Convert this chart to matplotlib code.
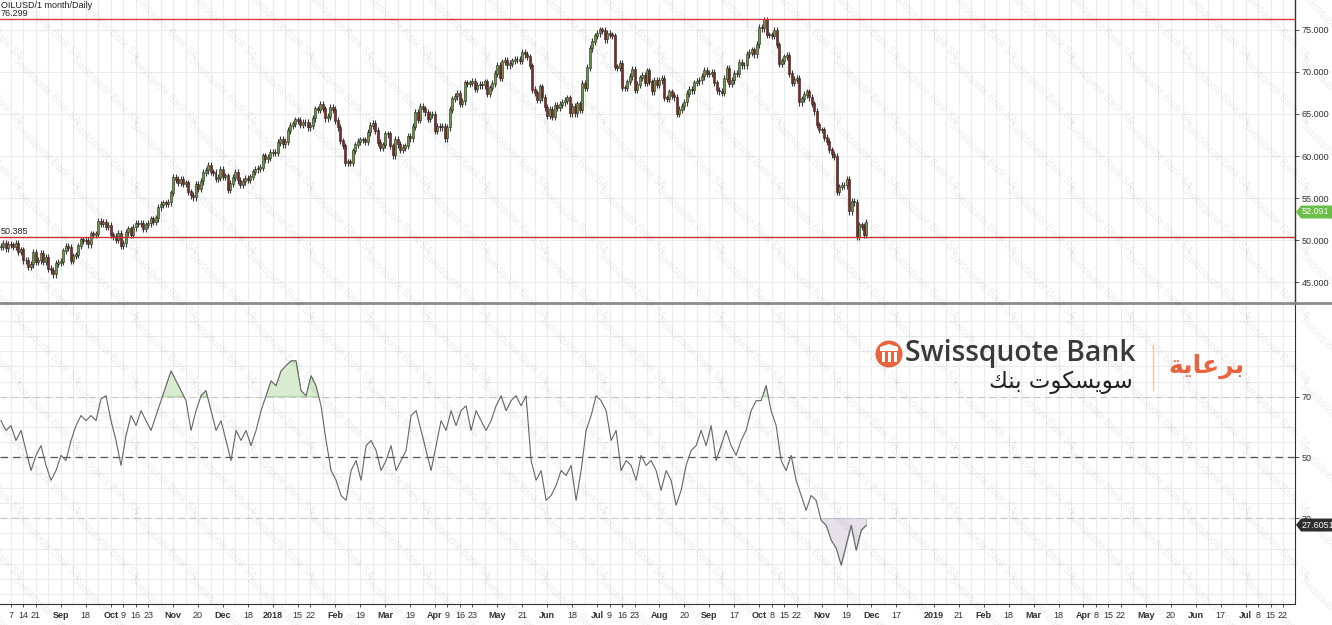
import numpy as np
import pandas as pd
import matplotlib
matplotlib.use("Agg")
import matplotlib.pyplot as plt
import matplotlib.transforms as mtransforms
from matplotlib.patches import Ellipse, Polygon, Rectangle
from matplotlib.lines import Line2D

# daily closes, 2017-08-01 .. 2018-11-29 (one row per week, Mon..Fri)
closes = [
    49.2, 49.6, 49.0, 49.5,
    49.4, 49.2, 49.6, 48.6, 48.8,
    47.6, 47.6, 46.8, 47.1, 48.5,
    47.4, 47.6, 48.4, 47.4, 47.9,
    46.6, 46.4, 45.9, 47.2, 47.3,
    47.4, 48.7, 49.2, 49.1, 47.5,
    48.1, 48.2, 49.3, 50.0, 49.9,
    49.9, 49.5, 50.7, 50.6, 50.7,
    52.2, 51.9, 52.1, 51.6, 51.7,
    50.6, 50.4, 50.0, 50.8, 49.3,
    49.6, 50.9, 51.3, 50.6, 51.5,
    52.0, 51.9, 52.0, 51.3, 51.8,
    52.0, 52.5, 52.2, 52.6, 53.9,
    54.2, 54.4, 54.3, 54.5, 55.6,
    57.4, 57.2, 56.8, 57.2, 56.7,
    56.8, 55.7, 55.3, 55.1, 56.6,
    56.1, 57.0, 58.0, 58.3, 58.9,
    58.1, 58.0, 57.3, 57.4, 58.4,
    57.5, 57.6, 56.0, 56.7, 57.4,
    58.0, 57.1, 56.6, 57.0, 57.3,
    57.2, 57.5, 58.1, 58.4, 58.5,
    58.6, 60.0, 59.6, 59.8, 60.4,
    60.4, 60.4, 61.6, 62.0, 61.4,
    61.7, 63.0, 63.6, 63.8, 64.3,
    64.2, 63.7, 64.0, 64.0, 63.4,
    63.6, 64.5, 65.6, 65.5, 66.1,
    65.6, 64.5, 64.7, 65.8, 65.5,
    64.2, 63.4, 61.8, 61.2, 59.2,
    59.3, 59.2, 60.6, 61.3, 61.7,
    61.9, 61.9, 61.7, 62.8, 63.6,
    63.9, 63.0, 61.6, 61.0, 61.3,
    62.6, 62.6, 61.2, 60.1, 62.0,
    61.4, 60.7, 61.0, 61.2, 62.3,
    62.1, 63.5, 65.2, 64.3, 65.9,
    65.6, 65.2, 64.4, 64.9, 64.9,
    63.0, 63.5, 63.4, 63.5, 62.1,
    63.4, 65.5, 66.8, 67.1, 67.4,
    66.2, 66.5, 68.7, 68.6, 68.7,
    68.9, 68.0, 68.4, 68.5, 68.4,
    68.8, 67.4, 68.1, 68.6, 69.8,
    70.8, 69.3, 71.2, 71.4, 70.8,
    71.0, 71.3, 71.5, 71.5, 71.3,
    72.3, 72.1, 71.8, 70.7, 67.9,
    67.5, 66.7, 68.2, 67.0, 65.8,
    64.8, 65.5, 64.7, 66.0, 65.7,
    66.1, 66.4, 66.6, 66.9, 65.1,
    65.9, 65.1, 66.2, 65.5, 68.6,
    68.1, 70.5, 72.8, 73.6, 74.3,
    74.6, 75.0, 74.9, 73.9, 74.6,
    74.4, 74.3, 70.6, 70.5, 71.0,
    68.1, 68.1, 68.8, 69.5, 70.3,
    67.9, 68.5, 69.3, 69.6, 68.7,
    70.1, 68.8, 67.7, 69.0, 68.5,
    69.0, 69.2, 66.9, 66.8, 67.6,
    67.2, 67.0, 65.0, 65.5, 65.9,
    66.4, 67.4, 67.9, 67.8, 68.7,
    68.9, 69.0, 69.5, 70.2, 69.8,
    69.8, 69.9, 68.7, 67.8, 67.7,
    67.5, 69.2, 70.4, 68.6, 69.0,
    69.8, 69.8, 71.1, 70.8, 70.8,
    72.1, 72.3, 72.6, 72.1, 73.3,
    75.3, 75.2, 76.2, 74.4, 74.4,
    74.3, 74.9, 73.2, 71.0, 71.3,
    71.8, 72.0, 69.8, 68.7, 69.1,
    69.2, 66.4, 66.8, 67.3, 67.6,
    67.0, 66.2, 65.3, 63.7, 63.1,
    63.1, 62.2, 61.7, 60.7, 60.2,
    59.9, 55.7, 56.3, 56.5, 56.5,
    57.2, 53.4, 54.6, 54.5, 50.4,
    51.8, 51.6, 50.6, 52.09,
]

# RSI(14) (coarse, every other trading day)
rsi = [
    62.1, 58.9, 60.5, 55.6, 58.9, 52.3, 45.7, 50.7, 53.9, 47.4, 42.5, 45.7, 50.7, 49.0,
    55.6, 60.5, 63.8, 62.1, 63.8, 62.1, 69.3, 70.3, 62.1, 55.6, 47.4, 57.2, 63.8, 60.5,
    65.4, 62.1, 58.9, 63.8, 68.7, 73.6, 78.5, 75.2, 72.0, 68.7, 58.9, 65.4, 70.3, 72.0,
    65.4, 58.9, 62.1, 55.6, 49.0, 58.9, 55.6, 58.9, 53.9, 58.9, 65.4, 70.3, 75.2, 73.6,
    78.5, 80.2, 81.8, 81.8, 72.0, 70.3, 76.9, 73.6, 67.0, 55.6, 45.7, 42.5, 37.5, 35.9,
    45.7, 49.0, 42.5, 53.9, 55.6, 52.3, 45.7, 49.0, 53.9, 45.7, 49.0, 52.3, 63.8, 65.4,
    58.9, 52.3, 45.7, 53.9, 62.1, 58.9, 65.4, 60.5, 65.4, 67.0, 58.9, 65.4, 62.1, 58.9,
    62.1, 67.0, 70.3, 65.4, 68.7, 70.3, 67.0, 70.3, 49.0, 42.5, 45.7, 35.9, 37.5, 40.8,
    45.7, 44.1, 47.4, 35.9, 45.7, 58.9, 63.8, 70.3, 68.7, 65.4, 55.6, 58.9, 45.7, 49.0,
    47.4, 42.5, 50.7, 47.4, 49.0, 45.7, 39.2, 45.7, 42.5, 34.3, 39.2, 47.4, 52.3, 53.9,
    58.9, 53.9, 60.5, 49.0, 53.9, 58.9, 53.9, 50.7, 55.6, 58.9, 65.4, 68.7, 68.7, 73.6,
    65.4, 60.5, 49.0, 45.7, 50.7, 42.5, 37.5, 32.6, 37.5, 35.9, 29.3, 27.7, 22.8, 20.2,
    14.6, 21.1, 27.7, 19.5, 26.1, 27.7,
]

tick_dates = [
    "2017-08-07", "2017-08-14", "2017-08-21", "2017-09-04", "2017-09-18", "2017-10-02",
    "2017-10-09", "2017-10-16", "2017-10-23", "2017-11-06", "2017-11-20", "2017-12-04",
    "2017-12-18", "2018-01-01", "2018-01-15", "2018-01-22", "2018-02-05", "2018-02-19",
    "2018-03-05", "2018-03-19", "2018-04-02", "2018-04-09", "2018-04-16", "2018-04-23",
    "2018-05-07", "2018-05-21", "2018-06-04", "2018-06-18", "2018-07-02", "2018-07-09",
    "2018-07-16", "2018-07-23", "2018-08-06", "2018-08-20", "2018-09-03", "2018-09-17",
    "2018-10-01", "2018-10-08", "2018-10-15", "2018-10-22", "2018-11-05", "2018-11-19",
    "2018-12-03", "2018-12-17", "2019-01-07", "2019-01-21", "2019-02-04", "2019-02-18",
    "2019-03-04", "2019-03-18", "2019-04-01", "2019-04-08", "2019-04-15", "2019-04-22",
    "2019-05-06", "2019-05-20", "2019-06-03", "2019-06-17", "2019-07-01", "2019-07-08",
    "2019-07-15", "2019-07-22",
]
tick_labels = [
    "7", "14", "21", "Sep", "18", "Oct", "9", "16", "23", "Nov", "20", "Dec", "18", "2018",
    "15", "22", "Feb", "19", "Mar", "19", "Apr", "9", "16", "23", "May", "21", "Jun", "18",
    "Jul", "9", "16", "23", "Aug", "20", "Sep", "17", "Oct", "8", "15", "22", "Nov", "19",
    "Dec", "17", "2019", "21", "Feb", "18", "Mar", "18", "Apr", "8", "15", "22", "May", "20",
    "Jun", "17", "Jul", "8", "15", "22",
]

resistance = 76.299
support = 50.385
last_price = "52.091"
last_rsi = "27.6051"

W, H = 1332, 625
fig = plt.figure(figsize=(W / 100, H / 100), dpi=100)
plt.rcParams['font.family'] = ['Liberation Sans', 'DejaVu Sans']


def fx(px):
    return px / W


def fy(py):
    return 1 - py / H


ax = fig.add_axes([0, fy(301), fx(1295), 301 / H])
ax2 = fig.add_axes([0, fy(604), fx(1295), 300 / H], sharex=ax)

start = "2017-08-01"
days = pd.bdate_range(start, "2019-08-30")
idx = np.arange(len(closes))
c = np.array(closes)
o = np.r_[c[0], c[:-1]]
wick = 0.4
hi = np.maximum(o, c) + wick
lo = np.minimum(o, c) - wick
up = c >= o

grid_c = '#ececec'
mondays = np.where(days.dayofweek == 0)[0]
for a in (ax, ax2):
    for m in mondays:
        a.axvline(m, color=grid_c, lw=0.8, zorder=0)

for lvl in range(45, 80, 5):
    ax.axhline(lvl, color=grid_c, lw=0.8, zorder=0)
for lvl in range(5, 100, 5):
    ax2.axhline(lvl, color=grid_c, lw=0.8, zorder=0)

ax.vlines(idx, lo, hi, color='#3a3a3a', lw=0.8, zorder=2)
ax.bar(idx[up], (c - o)[up] + 0.08, bottom=o[up], width=0.8, color='#6b9a3f',
       edgecolor='#262626', lw=0.4, zorder=3)
ax.bar(idx[~up], (o - c)[~up] + 0.08, bottom=c[~up], width=0.8, color='#8a2323',
       edgecolor='#262626', lw=0.4, zorder=3)

ax.axhline(resistance, color='#dc3c3c', lw=1.0, zorder=4)
ax.axhline(support, color='#c83232', lw=1.0, zorder=4)
tr = mtransforms.blended_transform_factory(ax.transAxes, ax.transData)
ax.text(0.0005, resistance + 0.1, f"{resistance:.3f}", transform=tr, fontsize=6.5,
        va='bottom', ha='left', color='#222')
ax.text(0.0005, support + 0.1, f"{support:.3f}", transform=tr, fontsize=6.5,
        va='bottom', ha='left', color='#222')
fig.text(fx(1), fy(6), "OILUSD/1 month/Daily", fontsize=6.5, va='center', ha='left',
         color='#222')

ax.set_ylim(42.74, 78.57)
ax.set_xlim(-0.4, 518.8)
ax.yaxis.tick_right()
ax.set_yticks(range(45, 80, 5))
ax.set_yticklabels([f"{v:.3f}" for v in range(45, 80, 5)])
ax.tick_params(axis='y', labelsize=6.5, length=3, pad=2, colors='#333', width=0.6)
ax.tick_params(axis='x', bottom=False, labelbottom=False)
for s in ('top', 'left', 'bottom'):
    ax.spines[s].set_visible(False)
ax.spines['right'].set_color('#333')
ax.spines['right'].set_linewidth(1.0)

# RSI panel
r = np.array(rsi)
ri = np.arange(len(r)) * 2.005
ax2.axhline(70, color='#c8c8c8', lw=0.8, dashes=(6, 4), zorder=1)
ax2.axhline(30, color='#c8c8c8', lw=0.8, dashes=(6, 4), zorder=1)
ax2.axhline(50, color='#555555', lw=0.9, dashes=(6, 4), zorder=1)
ax2.fill_between(ri, r, 70, where=r > 70, interpolate=True, color='#d8ecd0',
                 edgecolor='#9bc48a', lw=0.5, zorder=2)
ax2.fill_between(ri, r, 30, where=r < 30, interpolate=True, color='#e6e2ea',
                 edgecolor='#b8b0c0', lw=0.5, zorder=2)
ax2.plot(ri, r, color='#666666', lw=0.8, zorder=3)
ax2.set_ylim(1.8, 100.5)
ax2.yaxis.tick_right()
ax2.set_yticks([30, 50, 70])
ax2.tick_params(axis='y', labelsize=6.5, length=3, pad=2, colors='#333', width=0.6)
for s in ('top', 'left'):
    ax2.spines[s].set_visible(False)
ax2.spines['right'].set_color('#333')
ax2.spines['bottom'].set_color('#333')

tpos = days.get_indexer(pd.to_datetime(tick_dates))
ax2.set_xticks(tpos)
ax2.set_xticklabels(tick_labels)
ax2.tick_params(axis='x', labelsize=6.5, length=2, pad=3, colors='#333', width=0.6)
for lab in ax2.get_xticklabels():
    if not lab.get_text().isdigit() or len(lab.get_text()) == 4:
        lab.set_fontweight('bold')

# separator between panels
fig.add_artist(Line2D([0, 1], [fy(302.5), fy(302.5)], color='#8c8c8c', lw=2.0))


# price markers on the right axis
def marker(ypx, text, face):
    pts = [(1296, ypx), (1301, ypx - 6.5), (1332, ypx - 6.5), (1332, ypx + 6.5), (1301, ypx + 6.5)]
    fig.add_artist(Polygon([(fx(x), fy(y)) for x, y in pts], closed=True,
                           facecolor=face, edgecolor='none'))
    fig.text(fx(1302), fy(ypx), text, fontsize=6.5, color='white', va='center', ha='left')


marker(212, last_price, '#6cc04a')
marker(525, last_rsi, '#2e2e2e')

# sponsor logo
fig.add_artist(Ellipse((fx(889), fy(354)), 27 / W, 27 / H, facecolor='#ec6340',
                       edgecolor='none'))
icon = [(880, 351), (898, 351), (898, 347), (889, 344), (880, 347)]
fig.add_artist(Polygon([(fx(x), fy(y)) for x, y in icon], closed=True, facecolor='white',
                       edgecolor='none'))
for px in (881.5, 887.5, 893.5):
    fig.add_artist(Rectangle((fx(px), fy(362)), 3 / W, 10 / H, facecolor='white',
                             edgecolor='none'))
fig.text(fx(905), fy(354), "Swissquote Bank", fontsize=20.3, family='Open Sans',
         fontweight='semibold', color='#3a3a3a', va='center', ha='left')
arabic_name = "\uFEDA\uFEE8\uFE91 \uFE95\uFEEE\uFEDC\uFEB4\uFEF3\uFEEE\uFEB3"
fig.text(fx(1133), fy(382), arabic_name, fontsize=16.5, family='DejaVu Sans',
         color='#222', va='center', ha='right')
fig.add_artist(Line2D([fx(1153), fx(1153)], [fy(345), fy(390)], color='#f2c4b4', lw=1.0))
sponsor = "\uFE94\uFEF3\uFE8E\uFECB\uFEAE\uFE91"
fig.text(fx(1206), fy(366), sponsor, fontsize=18, family='DejaVu Sans', fontweight='bold',
         color='#ec6340', va='center', ha='center')

# watermark
for yy in np.arange(-10, H, 65):
    for xx in np.arange(-40, W, 58.5):
        fig.text(fx(xx), fy(yy), "Swissquote Bank SA", fontsize=7, rotation=-45,
                 rotation_mode='anchor', ha='left', va='top', color=(0, 0, 0, 0.075))

fig.savefig("out.png", dpi=100)
